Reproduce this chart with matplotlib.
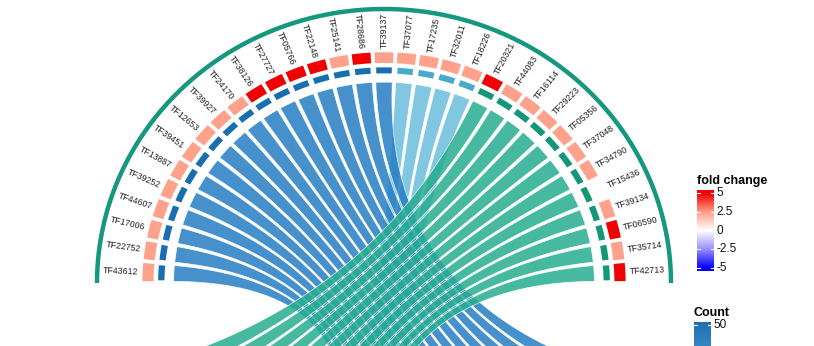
import numpy as np
import matplotlib
matplotlib.use("Agg")
import matplotlib.pyplot as plt
from matplotlib.patches import Wedge, Polygon
from matplotlib.colors import LinearSegmentedColormap

plt.rcParams['font.family'] = ['Liberation Sans', 'DejaVu Sans']

# genes around the upper half, left to right
genes = ["TF43612", "TF22752", "TF17006", "TF44607", "TF39252", "TF13887", "TF39451",
         "TF12653", "TF39927", "TF24170", "TF38126", "TF27727", "TF05766", "TF22148",
         "TF25141", "TF28686", "TF39137", "TF37077", "TF17235", "TF32011", "TF18226",
         "TF20321", "TF44083", "TF16114", "TF29223", "TF05356", "TF37048", "TF34790",
         "TF15436", "TF39134", "TF06590", "TF35714", "TF42713"]
logfc = [2.4, 2.4, 2.4, 2.4, 2.4, 2.4, 2.4, 2.4, 2.4, 2.4, 5.0, 5.0, 5.0, 5.0,
         2.4, 5.0, 2.4, 2.4, 2.4, 2.4, 2.4, 5.0, 2.4, 2.4, 2.4, 2.4, 2.4, 2.4,
         0.0, 2.4, 5.0, 2.4, 5.0]
# number of genes linked to each term (in gene order)
term_sizes = [17, 4, 12]
term_colors = ["#176eb0", "#46aacd", "#149678"]
ribbon_colors = ["#257ec4", "#6cbedc", "#25ad8f"]
count_max = 50

# lower half placement of the terms (degrees)
term_arcs = [(-105, -22), (-100, -80), (-160, -95)]

W, H = 814, 346
cx, cy, rx, ry = 384, 283, 287, 274
R_CHORD, R_RING, R_FC, R_LAB = 0.733, (0.765, 0.787), (0.803, 0.842), 0.857

fig = plt.figure(figsize=(W / 100, H / 100), dpi=100)
ax = fig.add_axes([0, 0, 1, 1])
ax.set_xlim(-cx / rx, (W - cx) / rx)
ax.set_ylim(-(H - cy) / ry, cy / ry)
ax.axis("off")

fc_cmap = LinearSegmentedColormap.from_list(
    "fc", [(0.0, "#0000ff"), (0.25, "#9a8eff"), (0.5, "#ffffff"),
           (0.75, "#ff9e87"), (1.0, "#f00000")])

n = len(genes)
step = 180.0 / n
angles = 180.0 - (np.arange(n) + 0.5) * step
gene_term = np.repeat(np.arange(len(term_sizes)), term_sizes)


def pt(deg, r):
    a = np.deg2rad(deg)
    return np.array([r * np.cos(a), r * np.sin(a)])


def bez(a0, a1, r=R_CHORD, k=80):
    t = np.linspace(0, 1, k)[:, None]
    return (1 - t) ** 2 * pt(a0, r) + t ** 2 * pt(a1, r)


def arc(a0, a1, r=R_CHORD, k=12):
    th = np.deg2rad(np.linspace(a0, a1, k))
    return np.column_stack([r * np.cos(th), r * np.sin(th)])


# ribbons: light blue first, then blue, teal on top
hw = 2.25
for z, term in enumerate([1, 0, 2]):
    idx = np.where(gene_term == term)[0]
    lo, hi = term_arcs[term]
    s = (hi - lo) / len(idx)
    for k, i in enumerate(idx):
        b_lo = lo + k * s + 0.45
        b_hi = lo + (k + 1) * s - 0.45
        a_hi, a_lo = angles[i] + hw, angles[i] - hw
        poly = np.vstack([bez(a_hi, b_lo), arc(b_lo, b_hi),
                          bez(a_lo, b_hi)[::-1], arc(a_lo, a_hi)])
        ax.add_patch(Polygon(poly, closed=True, facecolor=ribbon_colors[term],
                             edgecolor="white", lw=0.5, alpha=0.85, zorder=1 + z * 0.1))

# term colour ring and fold change boxes
for i in range(n):
    a = angles[i]
    ax.add_patch(Wedge((0, 0), R_RING[1], a - 2.0, a + 2.0, width=R_RING[1] - R_RING[0],
                       facecolor=term_colors[gene_term[i]], edgecolor="none", zorder=4))
    ax.add_patch(Wedge((0, 0), R_FC[1], a - 2.25, a + 2.25, width=R_FC[1] - R_FC[0],
                       facecolor=fc_cmap((logfc[i] + 5) / 10), edgecolor="none", zorder=4))
    vis = np.degrees(np.arctan2(np.sin(np.deg2rad(a)) * ry, np.cos(np.deg2rad(a)) * rx))
    x, y = pt(a, R_LAB)
    if a > 90.5:
        ax.text(x, y, genes[i], rotation=vis - 180, rotation_mode="anchor",
                ha="right", va="center", fontsize=6.3, color="#222222")
    else:
        ax.text(x, y, genes[i], rotation=vis, rotation_mode="anchor",
                ha="left", va="center", fontsize=6.3, color="#222222")

th = np.linspace(0, np.pi, 300)
ax.plot(np.cos(th), np.sin(th), color="#16977f", lw=3.2, solid_capstyle="butt", zorder=5)

# fold change colourbar
cax = fig.add_axes([697 / W, 1 - 271 / H, 17 / W, 81 / H])
grad = np.linspace(-5.4, 5.4, 256)[:, None]
cax.imshow(grad, aspect="auto", cmap=fc_cmap, vmin=-5, vmax=5, origin="lower",
           extent=[0, 1, -5.4, 5.4])
cax.set_xlim(0, 1)
cax.set_ylim(-5.4, 5.4)
cax.axis("off")
for v, lab in zip([5, 2.5, 0, -2.5, -5], ["5", "2.5", "0", "-2.5", "-5"]):
    cax.plot([0, 0.2], [v, v], color="white", lw=0.8)
    cax.plot([0.8, 1], [v, v], color="white", lw=0.8)
    cax.text(1.12, v, lab, ha="left", va="center", fontsize=8.5, color="#111111")
fig.text(697 / W, 1 - 181 / H, "fold change", fontsize=9, fontweight="bold",
         ha="left", va="center")

# count colourbar
cnt_cmap = LinearSegmentedColormap.from_list("cnt", ["#5aa5e0", "#1f6fb0"])
kax = fig.add_axes([694 / W, 1 - 382 / H, 17 / W, 60 / H])
cgrad = np.linspace(10, 52, 128)[:, None]
kax.imshow(cgrad, aspect="auto", cmap=cnt_cmap, vmin=10, vmax=52, origin="lower",
           extent=[0, 1, 10, 52])
kax.set_xlim(0, 1)
kax.set_ylim(10, 52)
kax.axis("off")
kax.plot([0, 0.2], [count_max, count_max], color="white", lw=0.8)
kax.plot([0.8, 1], [count_max, count_max], color="white", lw=0.8)
kax.text(1.12, count_max, str(count_max), ha="left", va="center", fontsize=8.5, color="#111111")
fig.text(694 / W, 1 - 313 / H, "Count", fontsize=9, fontweight="bold", ha="left", va="center")

fig.savefig("out.png", dpi=100)
